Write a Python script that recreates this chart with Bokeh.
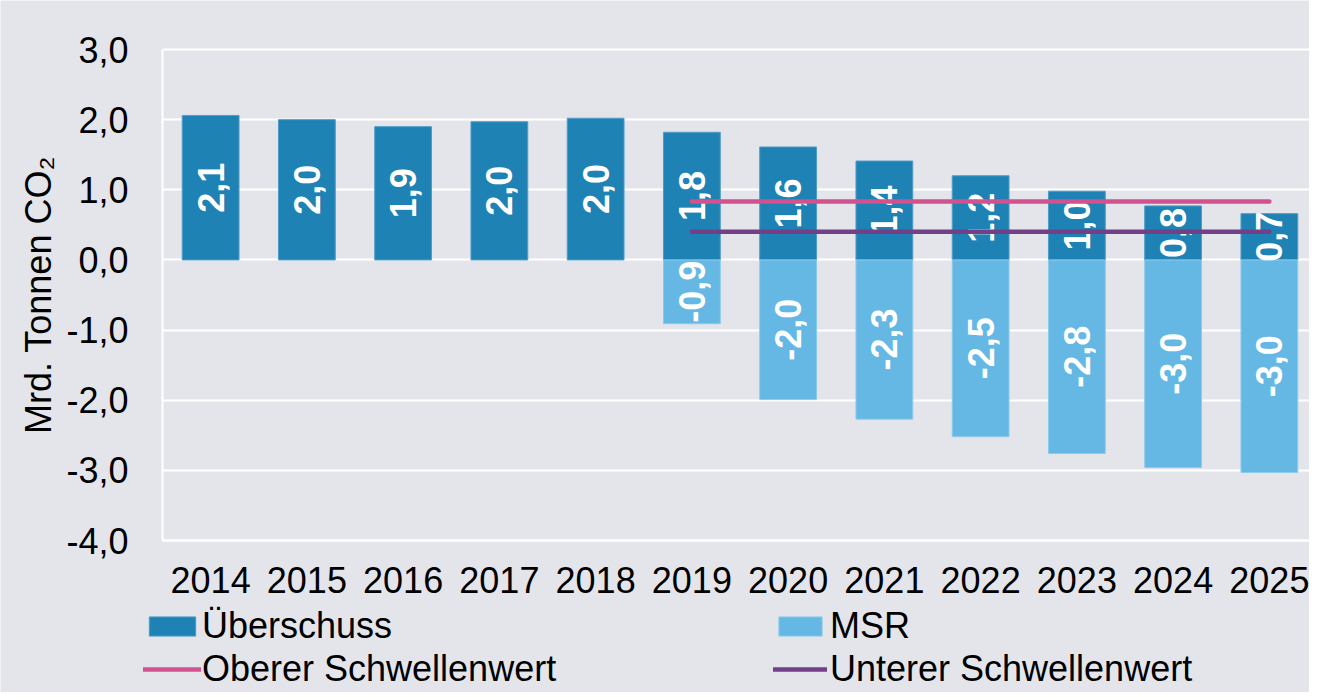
import math
from bokeh.plotting import figure
from bokeh.models import (ColumnDataSource, Range1d, FixedTicker, Label,
                          CustomJSTickFormatter, Legend, LegendItem)
from bokeh.core.properties import value
from bokeh.embed import file_html
from bokeh.resources import INLINE

# ---- data ----
years = ["2014", "2015", "2016", "2017", "2018", "2019", "2020",
         "2021", "2022", "2023", "2024", "2025"]
ueberschuss = [2.06, 2.00, 1.90, 1.97, 2.02, 1.82, 1.61, 1.41, 1.20, 0.98, 0.77, 0.66]
msr_years = ["2019", "2020", "2021", "2022", "2023", "2024", "2025"]
msr = [-0.91, -1.99, -2.27, -2.52, -2.76, -2.96, -3.03]
oberer = [0.833] * len(msr_years)
unterer = [0.40] * len(msr_years)
y_ticks = [-4, -3, -2, -1, 0, 1, 2, 3]
series_names = ["Überschuss", "MSR", "Oberer Schwellenwert", "Unterer Schwellenwert"]
y_title = "Mrd. Tonnen CO\u2082"

# ---- style / layout ----
FONT = "Liberation Sans"
BG = "#e4e5ea"
DARK = "#1f82b4"
LIGHT = "#65b8e3"
PINK = "#d2528f"
PURPLE = "#733f87"
DARK_EDGE = "#4f9cc6"
LIGHT_EDGE = "#8ccbeb"
W, H = 1309, 692
CAT_PX = 96.25          # pixels per category
X0_PX = 162             # left edge of first category
Y_TOP_PX, Y_BOT_PX = 49, 540   # pixel rows of the 3,0 and -4,0 grid lines
YMIN, YMAX = min(y_ticks), max(y_ticks)
PX_PER_UNIT = (Y_BOT_PX - Y_TOP_PX) / (YMAX - YMIN)


def fmt(v):
    return f"{v:.1f}".replace(".", ",")


xi = {y: i for i, y in enumerate(years)}
src_u = ColumnDataSource(dict(x=[xi[y] for y in years], top=ueberschuss,
                              mid=[v / 2 for v in ueberschuss],
                              lab=[fmt(v) for v in ueberschuss]))
src_m = ColumnDataSource(dict(x=[xi[y] for y in msr_years], top=msr,
                              mid=[v / 2 for v in msr],
                              lab=[fmt(v) for v in msr]))
src_o = ColumnDataSource(dict(x=[xi[y] for y in msr_years], y=oberer))
src_un = ColumnDataSource(dict(x=[xi[y] for y in msr_years], y=unterer))

x_lo = -0.5
x_hi = len(years) - 0.5
p = figure(x_range=Range1d(x_lo - X0_PX / CAT_PX, x_lo + (W - X0_PX) / CAT_PX),
           y_range=Range1d(YMIN - (H - Y_BOT_PX) / PX_PER_UNIT,
                           YMAX + Y_TOP_PX / PX_PER_UNIT),
           width=W, height=H, output_backend="svg",
           toolbar_location=None, tools="")
p.min_border_left = 0
p.min_border_right = 0
p.min_border_top = 0
p.min_border_bottom = 0
p.background_fill_color = BG
p.border_fill_color = BG
p.outline_line_color = None

b1 = p.vbar(x="x", top="top", bottom=0, width=0.59, source=src_u,
            fill_color=DARK, line_color=DARK_EDGE, line_width=1)
b2 = p.vbar(x="x", top="top", bottom=0, width=0.59, source=src_m,
            fill_color=LIGHT, line_color=LIGHT_EDGE, line_width=1)

p.text(x="x", y="mid", text="lab", source=src_u, angle=math.pi / 2,
       text_align="center", text_baseline="middle", text_color="white",
       text_font=value(FONT), text_font_style="bold", text_font_size="36px")
p.text(x="x", y="mid", text="lab", source=src_m, angle=math.pi / 2,
       text_align="center", text_baseline="middle", text_color="white",
       text_font=value(FONT), text_font_style="bold", text_font_size="36px")

l1 = p.line(x="x", y="y", source=src_o, line_color=PINK, line_width=4.5,
            line_cap="round")
l2 = p.line(x="x", y="y", source=src_un, line_color=PURPLE, line_width=4.5,
            line_cap="round")

# ---- axes ----
yt = FixedTicker(ticks=y_ticks)
xt = FixedTicker(ticks=list(range(len(years))))
p.yaxis.ticker = yt
p.ygrid.ticker = yt
p.xaxis.ticker = xt
p.yaxis.formatter = CustomJSTickFormatter(code="return tick.toFixed(1).replace('.', ',');")
p.xaxis.formatter = CustomJSTickFormatter(args=dict(years=years),
                                          code="return years[Math.round(tick)];")
p.yaxis.fixed_location = x_lo
p.yaxis.bounds = (YMIN, YMAX)
p.xaxis.fixed_location = YMIN
p.xaxis.bounds = (x_lo, x_hi)

p.xgrid.grid_line_color = None
p.ygrid.grid_line_color = "white"
p.ygrid.grid_line_width = 2
if "cross_bounds" in p.ygrid[0].properties():
    p.ygrid.cross_bounds = (x_lo, x_hi)

for ax in (p.xaxis[0], p.yaxis[0]):
    ax.axis_line_color = "white"
    ax.axis_line_width = 2
    ax.major_tick_line_color = None
    ax.minor_tick_line_color = None
    ax.major_tick_out = 0
    ax.major_tick_in = 0
    ax.major_label_text_font = FONT
    ax.major_label_text_font_size = "36px"
    ax.major_label_text_color = "black"
p.yaxis.major_label_standoff = 34
p.xaxis.major_label_standoff = 26

p.add_layout(Label(x=38, x_units="screen", y=(YMIN + YMAX) / 2, y_units="data",
                   text=y_title, angle=math.pi / 2, text_align="center",
                   text_baseline="middle", text_font=FONT,
                   text_font_size="36px", text_color="black"))


def make_legend(items, loc, gw, standoff):
    return Legend(items=items, location=loc, orientation="vertical",
                  background_fill_alpha=0, border_line_color=None,
                  padding=0, margin=0, spacing=1,
                  glyph_width=gw, glyph_height=24, label_height=36,
                  label_standoff=standoff, label_text_font=FONT,
                  label_text_font_size="36px", label_text_color="black")


leg1 = make_legend([LegendItem(label=series_names[0], renderers=[b1]),
                    LegendItem(label=series_names[2], renderers=[l1])],
                   (143, 2), 58, 1)
leg2 = make_legend([LegendItem(label=series_names[1], renderers=[b2]),
                    LegendItem(label=series_names[3], renderers=[l2])],
                   (773, 2), 54, 3)
p.add_layout(leg1, "center")
p.add_layout(leg2, "center")

open("out.html", "w").write(file_html(p, INLINE))
